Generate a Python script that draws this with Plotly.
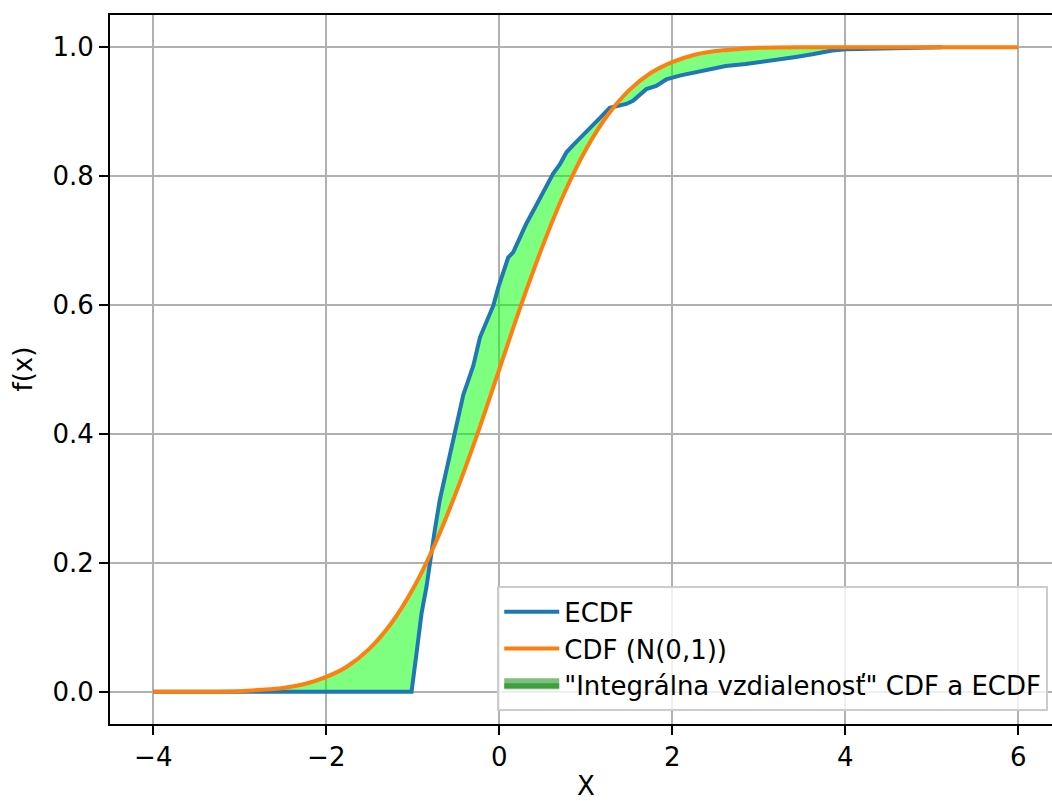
import plotly.graph_objects as go

# ECDF
ecdf_x = [-4.0, -1.014, -0.956, -0.898, -0.841, -0.803, -0.745, -0.687, -0.646, -0.588,
          -0.531, -0.473, -0.415, -0.358, -0.300, -0.223, -0.146, -0.069, -0.012, 0.046,
          0.104, 0.162, 0.238, 0.315, 0.412, 0.508, 0.623, 0.700, 0.777, 0.854,
          0.931, 1.008, 1.085, 1.162, 1.277, 1.354, 1.469, 1.546, 1.700, 1.815,
          1.931, 2.085, 2.28, 2.47, 2.62, 2.85, 3.08, 3.24, 3.43, 3.62,
          3.85, 4.01, 4.5, 5.12]
ecdf_y = [0.0, 0.0, 0.060, 0.122, 0.163, 0.200, 0.251, 0.298, 0.323, 0.356,
          0.395, 0.428, 0.461, 0.483, 0.506, 0.550, 0.575, 0.599, 0.627, 0.649,
          0.674, 0.682, 0.704, 0.727, 0.751, 0.776, 0.804, 0.818, 0.837, 0.848,
          0.859, 0.870, 0.881, 0.890, 0.906, 0.909, 0.912, 0.917, 0.935, 0.940,
          0.950, 0.956, 0.961, 0.966, 0.971, 0.974, 0.978, 0.981, 0.985, 0.989,
          0.995, 0.997, 0.998, 1.0]

# CDF of N(0,1)
cdf_x = [-4, -3.5, -3, -2.75, -2.5, -2.25, -2, -1.75, -1.5, -1.25, -1, -0.75, -0.5, -0.25,
         0, 0.25, 0.5, 0.75, 1, 1.25, 1.5, 1.75, 2, 2.25, 2.5, 2.75, 3, 3.5, 4, 5, 6]
cdf_y = [0.000, 0.000, 0.001, 0.003, 0.006, 0.012, 0.023, 0.040, 0.067, 0.106, 0.159,
         0.227, 0.309, 0.401, 0.500, 0.599, 0.691, 0.773, 0.841, 0.894, 0.933, 0.960,
         0.977, 0.988, 0.994, 0.997, 0.999, 1.000, 1.000, 1.000, 1.000]

x_ticks = [-4, -2, 0, 2, 4, 6]
y_ticks = [0.0, 0.2, 0.4, 0.6, 0.8, 1.0]
y_tick_labels = ["0.0", "0.2", "0.4", "0.6", "0.8", "1.0"]
x_tick_labels = ["\u22124", "\u22122", "0", "2", "4", "6"]

labels = ["ECDF", "CDF (N(0,1))", "\"Integrálna vzdialenosť\" CDF a ECDF"]

FONT = "DejaVu Sans"
FS = 26

fig = go.Figure()
# fill between curves
fig.add_trace(go.Scatter(x=ecdf_x, y=ecdf_y, mode="lines", line=dict(width=0),
                         showlegend=False, hoverinfo="skip"))
fig.add_trace(go.Scatter(x=cdf_x, y=cdf_y, mode="lines", line=dict(width=0, shape="spline"),
                         fill="tonexty", fillcolor="rgba(0,255,0,0.5)",
                         showlegend=False, hoverinfo="skip"))
# lines
fig.add_trace(go.Scatter(x=ecdf_x, y=ecdf_y, mode="lines", name=labels[0],
                         line=dict(color="#1f77b4", width=4), legendrank=1))
fig.add_trace(go.Scatter(x=cdf_x, y=cdf_y, mode="lines", name=labels[1],
                         line=dict(color="#ff7f0e", width=4, shape="spline"), legendrank=2))
# legend entry for the fill
fig.add_trace(go.Scatter(x=[None], y=[None], mode="lines", name=labels[2],
                         fill="toself", fillcolor="rgba(0,128,0,0.5)",
                         line=dict(color="rgba(0,128,0,0.5)", width=20), legendrank=3))

axis_common = dict(
    showgrid=True, gridcolor="#b0b0b0", gridwidth=2,
    zeroline=False, showline=True, linecolor="black", linewidth=2,
    ticks="outside", ticklen=9, tickwidth=2, tickcolor="black",
    tickfont=dict(family=FONT, size=FS, color="black"),
)

fig.update_layout(
    width=1052, height=801,
    margin=dict(l=110, r=0, t=15, b=77),
    plot_bgcolor="white", paper_bgcolor="white",
    font=dict(family=FONT, size=FS, color="black"),
    xaxis=dict(range=[-4.5, 6.39], tickvals=x_ticks, ticktext=x_tick_labels,
               mirror=True, **axis_common),
    yaxis=dict(range=[-0.05, 1.05], tickvals=y_ticks, ticktext=y_tick_labels,
               **axis_common),
    legend=dict(x=0.996, y=0.018, xanchor="right", yanchor="bottom",
                bgcolor="rgba(255,255,255,0.8)", bordercolor="#cccccc", borderwidth=2,
                itemwidth=55,
                font=dict(family=FONT, size=FS, color="black"), traceorder="normal"),
    annotations=[
        dict(text="X", xref="paper", yref="paper", x=0.505, y=0, yshift=-45,
             showarrow=False, xanchor="center", yanchor="top",
             font=dict(family=FONT, size=FS, color="black")),
        dict(text="f(x)", xref="paper", yref="paper", x=0, xshift=-88, y=0.5,
             showarrow=False, textangle=-90, xanchor="center", yanchor="middle",
             font=dict(family=FONT, size=FS, color="black")),
    ],
)

fig.write_html("out.html")
